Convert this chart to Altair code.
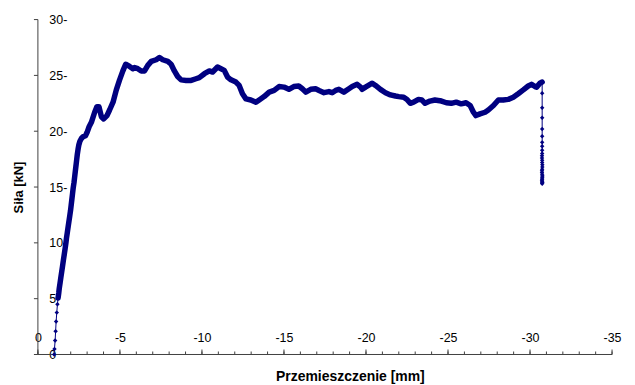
import altair as alt
import pandas as pd

# Displacement [mm] (negative) and force [kN]
disp = [
    -0.99, -1.01, -1.05, -1.08, -1.11, -1.15, -1.19, -1.23,
    -1.27, -1.30, -1.35, -1.40, -1.45, -1.50, -1.55, -1.60, -1.65, -1.70, -1.74, -1.79,
    -1.84, -1.89, -1.94, -1.99, -2.03, -2.07, -2.11, -2.15, -2.20, -2.24, -2.28, -2.32,
    -2.36, -2.40, -2.45, -2.50, -2.56, -2.65, -2.75, -2.90,
    -3.00, -3.12, -3.26, -3.46, -3.60, -3.72, -3.87, -4.01, -4.21, -4.37, -4.58, -4.78,
    -4.98, -5.18, -5.35, -5.59, -5.79, -5.89, -6.09, -6.30, -6.50, -6.70, -6.91, -7.21,
    -7.41, -7.61, -7.92, -8.12, -8.32, -8.52, -8.73, -9.03, -9.34, -9.64, -9.84, -10.15,
    -10.45, -10.65, -10.95, -11.16, -11.36, -11.56, -11.77, -12.07, -12.27, -12.47, -12.68,
    -12.98, -13.29, -13.49, -13.79, -14.10, -14.40, -14.70, -15.00, -15.30, -15.60, -15.90,
    -16.12, -16.33, -16.63, -16.93, -17.14, -17.44, -17.74, -17.94, -18.15, -18.35, -18.65,
    -18.96, -19.16, -19.46, -19.67, -19.77, -19.97, -20.38, -20.58, -20.88, -21.19, -21.49,
    -21.80, -22.00, -22.30, -22.50, -22.70, -22.90, -23.20, -23.40, -23.60, -23.90, -24.20,
    -24.60, -24.90, -25.20, -25.50, -25.80, -26.10, -26.35, -26.55, -26.70, -26.95, -27.26,
    -27.46, -27.77, -28.07, -28.37, -28.67, -28.98, -29.28, -29.59, -29.89, -30.09, -30.30,
    -30.40, -30.60, -30.74,
    -30.74, -30.74, -30.74, -30.74, -30.74, -30.74, -30.74, -30.74, -30.74,
    -30.73, -30.73, -30.74, -30.74, -30.75, -30.75, -30.74, -30.73, -30.73, -30.74,
    -30.75, -30.75, -30.74, -30.74, -30.73, -30.74, -30.75, -30.74, -30.74,
]
force = [
    0.0, 0.5, 1.25, 2.08, 2.95, 3.75, 4.5, 5.06,
    5.5, 5.9, 6.4, 6.9, 7.4, 7.9, 8.4, 8.9, 9.4, 9.9, 10.4, 10.9,
    11.4, 11.9, 12.4, 12.9, 13.4, 13.9, 14.4, 14.9, 15.4, 15.9, 16.4, 16.9,
    17.4, 17.9, 18.4, 18.8, 19.1, 19.35, 19.5, 19.6,
    19.9, 20.4, 20.8, 21.7, 22.2, 22.2, 21.3, 21.1, 21.4, 21.9, 22.6, 23.7,
    24.6, 25.4, 26.0, 25.8, 25.6, 25.7, 25.6, 25.4, 25.4, 25.9, 26.25, 26.4,
    26.6, 26.4, 26.25, 26.0, 25.4, 24.9, 24.6, 24.55, 24.55, 24.7, 24.8, 25.15,
    25.4, 25.3, 25.75, 25.6, 25.45, 24.85, 24.6, 24.4, 24.1, 23.35, 22.9,
    22.8, 22.6, 22.8, 23.1, 23.5, 23.65, 24.0, 23.95, 23.75, 24.0, 24.05,
    23.8, 23.5, 23.75, 23.8, 23.65, 23.45, 23.55, 23.45, 23.65, 23.75, 23.5,
    23.8, 24.0, 24.2, 23.95, 23.75, 23.95, 24.3, 24.1, 23.75, 23.45, 23.25,
    23.15, 23.1, 23.05, 22.85, 22.5, 22.6, 22.85, 22.8, 22.5, 22.7, 22.8,
    22.7, 22.55, 22.5, 22.6, 22.45, 22.55, 22.3, 21.7, 21.4, 21.55, 21.7,
    21.9, 22.3, 22.8, 22.8, 22.85, 23.05, 23.36, 23.7, 24.05, 24.2, 24.0,
    23.95, 24.3, 24.4,
    23.4, 22.1, 21.2, 20.2, 19.55, 19.0, 18.66, 18.3, 18.0,
    17.8, 17.6, 17.4, 17.2, 17.0, 16.8, 16.6, 16.45, 16.3, 16.15,
    16.0, 15.9, 15.8, 15.7, 15.6, 15.5, 15.4, 15.35, 15.3,
]
x_ticks = list(range(0, -36, -1))
x_major = [0, -5, -10, -15, -20, -25, -30, -35]
y_ticks = [0, 5, 10, 15, 20, 25, 30]

df = pd.DataFrame({"x": disp, "y": force})
df["i"] = range(len(df))
df["dense"] = ((df["y"] >= 5) & (df["i"] < len(disp) - 28)).astype(int)

xt_minor = pd.DataFrame({"v": x_ticks})
xt_major = pd.DataFrame({"v": x_major})
yt = pd.DataFrame({"v": y_ticks})

NAVY = "#000080"
FONT = "Liberation Sans"
AX = "#404040"

x_scale = alt.Scale(domain=[-35, 0], reverse=True, nice=False, zero=False)
y_scale = alt.Scale(domain=[0, 30], nice=False)

x_axis = alt.Axis(
    orient="top",
    offset=-336,
    values=x_major,
    labelExpr="'' + datum.value",
    tickSize=4,
    tickOpacity=0,
    domain=False,
    labelPadding=6,
    labelFlush=False,
    labelOverlap=False,
    labelBound=False,
    grid=False,
    labelColor="#000000",
    labelFont=FONT,
    labelFontSize=12.5,
    title="Przemieszczenie [mm]",
    titleFont=FONT,
    titleFontSize=14,
    titleFontWeight="bold",
    titleColor="#000000",
    titleX=313,
    titleY=22,
    titleAlign="center",
    titleBaseline="middle",
)
y_axis = alt.Axis(
    orient="left",
    values=y_ticks,
    labelExpr="datum.value == 0 ? '0' : datum.label + '-'",
    tickSize=4,
    tickOpacity=0,
    domain=False,
    labelPadding=-15,
    labelAlign="left",
    labelFlush=False,
    labelOverlap=False,
    grid=False,
    labelColor="#000000",
    labelFont=FONT,
    labelFontSize=12.5,
    title="Siła [kN]",
    titleFont=FONT,
    titleFontSize=13,
    titleFontWeight="bold",
    titleColor="#000000",
    titleX=-19,
    titleY=168,
    titleAngle=-90,
    titleAlign="center",
    titleBaseline="middle",
)

# axis lines and tick marks, drawn through the same scales
x_line = alt.Chart(xt_major).mark_rule(color=AX, strokeWidth=1).encode(
    x=alt.X("min(v):Q", axis=x_axis, scale=x_scale),
    x2="max(v):Q",
    y=alt.YDatum(0, axis=y_axis, scale=y_scale),
)
y_line = alt.Chart(yt).mark_rule(color=AX, strokeWidth=1).encode(
    y=alt.Y("min(v):Q", axis=y_axis, scale=y_scale),
    y2="max(v):Q",
    x=alt.XDatum(0, axis=x_axis, scale=x_scale),
)
x_minor_ticks = alt.Chart(xt_minor).mark_tick(
    orient="vertical", size=3, thickness=1, yOffset=-1.5, color=AX, opacity=1
).encode(
    x=alt.X("v:Q", axis=x_axis, scale=x_scale),
    y=alt.YDatum(0, axis=y_axis, scale=y_scale),
)
x_major_ticks = alt.Chart(xt_major).mark_tick(
    orient="vertical", size=5, thickness=1, yOffset=-2.5, color=AX, opacity=1
).encode(
    x=alt.X("v:Q", axis=x_axis, scale=x_scale),
    y=alt.YDatum(0, axis=y_axis, scale=y_scale),
)
y_tick_marks = alt.Chart(yt).mark_tick(
    orient="horizontal", size=4, thickness=1, xOffset=-2, color=AX, opacity=1
).encode(
    y=alt.Y("v:Q", axis=y_axis, scale=y_scale),
    x=alt.XDatum(0, axis=x_axis, scale=x_scale),
)

base = alt.Chart(df).encode(
    x=alt.X("x:Q", axis=x_axis, scale=x_scale),
    y=alt.Y("y:Q", axis=y_axis, scale=y_scale),
)

thin = base.mark_line(color=NAVY, strokeWidth=1).encode(order=alt.Order("i:Q"))
thick = base.transform_filter("datum.dense == 1").mark_line(
    color=NAVY, strokeWidth=5.5, strokeJoin="round", strokeCap="round"
).encode(order=alt.Order("i:Q"))
pts = base.mark_point(
    shape="diamond", filled=True, size=20, color=NAVY, opacity=1
)

chart = alt.layer(
    thin, x_line, y_line, x_minor_ticks, x_major_ticks, y_tick_marks, thick, pts
).properties(
    width=576,
    height=336,
    padding={"left": 30, "top": 11, "right": 15, "bottom": 30},
    autosize=alt.AutoSizeParams(type="none"),
    background="white",
).configure_view(stroke=None)

chart.save("out.html", embed_options={"renderer": "svg", "actions": False})
